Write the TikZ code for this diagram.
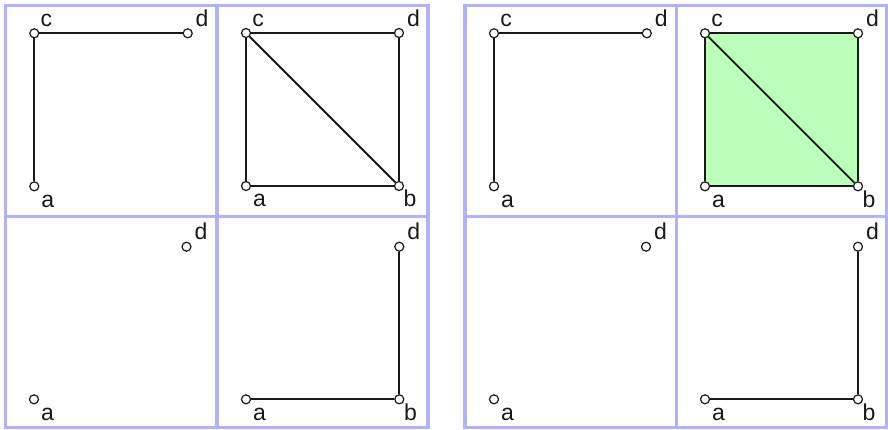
\documentclass[tikz,border=0pt]{standalone}
\usepackage{fontspec}
\setmainfont{Liberation Sans}
\usetikzlibrary{backgrounds}
\definecolor{frame}{RGB}{178,178,252}
\definecolor{fillg}{RGB}{187,255,187}
\definecolor{ink}{RGB}{25,25,25}
\tikzset{
  pt/.style={circle, draw=ink, fill=white, line width=1.2pt, minimum size=9pt, inner sep=0pt},
  lbl/.style={anchor=base west, inner sep=0pt, font=\fontsize{23}{23}\selectfont, text=ink},
  lblc/.style={lbl, xshift=6.2pt, yshift=6.8pt},
  lbld/.style={lbl, xshift=7.8pt, yshift=6.8pt},
  lbla/.style={lbl, xshift=6.8pt, yshift=-20.8pt},
  lblb/.style={lbl, xshift=4.5pt, yshift=-20.8pt},
  thick edge/.style={draw=ink, line width=2pt},
  thin edge/.style={draw=ink, line width=1.8pt},
  frameline/.style={draw=frame, line width=3.5pt},
}
\begin{document}
\begin{tikzpicture}[x=1pt,y=-1pt]
\useasboundingbox (0,0) rectangle (888,429);
% frames
\draw[frameline] (5.5,5.5) rectangle (428,427.5);
\draw[frameline] (216.8,5.5) -- (216.8,427.5);
\draw[frameline] (5.5,216.6) -- (428,216.6);
\draw[frameline] (465,5.5) rectangle (886.5,427.5);
\draw[frameline] (676.6,5.5) -- (676.6,427.5);
\draw[frameline] (465,216.6) -- (886.5,216.6);

% ---------- left group ----------
% panel 1
\node[pt] (A1c) at (34.3,33.3) {};
\node[pt] (A1d) at (187.7,33.3) {};
\node[pt] (A1a) at (34.3,186.3) {};
\node[lblc] at (A1c) {c};
\node[lbld] at (A1d) {d};
\node[lbla] at (A1a) {a};
\draw[thick edge] (A1c) -- (A1d);
\draw[thick edge] (A1c) -- (A1a);
% panel 2
\node[pt] (A2c) at (246,33) {};
\node[pt] (A2d) at (399,33) {};
\node[pt] (A2a) at (246,186) {};
\node[pt] (A2b) at (399,186) {};
\node[lblc] at (A2c) {c};
\node[lbld] at (A2d) {d};
\node[lbla] at (A2a) {a};
\node[lblb] at (A2b) {b};
\draw[thin edge] (A2c) -- (A2d);
\draw[thin edge] (A2c) -- (A2a);
\draw[thin edge] (A2a) -- (A2b);
\draw[thin edge] (A2d) -- (A2b);
\draw[thin edge] (A2c) -- (A2b);
% panel 3
\node[pt] (A3d) at (186.5,246.7) {};
\node[pt] (A3a) at (34,399.3) {};
\node[lbld] at (A3d) {d};
\node[lbla] at (A3a) {a};
% panel 4
\node[pt] (A4d) at (399.3,246.7) {};
\node[pt] (A4a) at (246,399.3) {};
\node[pt] (A4b) at (399.3,399.3) {};
\node[lbld] at (A4d) {d};
\node[lbla] at (A4a) {a};
\node[lblb] at (A4b) {b};
\draw[thick edge] (A4a) -- (A4b);
\draw[thick edge] (A4d) -- (A4b);

% ---------- right group ----------
% panel 1
\node[pt] (B1c) at (494,33.3) {};
\node[pt] (B1d) at (646.8,33.3) {};
\node[pt] (B1a) at (494,186.3) {};
\node[lblc] at (B1c) {c};
\node[lbld] at (B1d) {d};
\node[lbla] at (B1a) {a};
\draw[thick edge] (B1c) -- (B1d);
\draw[thick edge] (B1c) -- (B1a);
% panel 2
\node[pt] (B2c) at (705,33.3) {};
\node[pt] (B2d) at (858,33.3) {};
\node[pt] (B2a) at (705,186.3) {};
\node[pt] (B2b) at (858,186.3) {};
\begin{scope}[on background layer]
  \fill[fillg] (B2a.center) -- (B2b.center) -- (B2d.center) -- (B2c.center) -- cycle;
\end{scope}
\node[lblc] at (B2c) {c};
\node[lbld] at (B2d) {d};
\node[lbla] at (B2a) {a};
\node[lblb] at (B2b) {b};
\draw[thick edge] (B2c) -- (B2d);
\draw[thick edge] (B2c) -- (B2a);
\draw[thick edge] (B2a) -- (B2b);
\draw[thick edge] (B2d) -- (B2b);
\draw[thin edge] (B2c) -- (B2b);
% panel 3
\node[pt] (B3d) at (646,246.7) {};
\node[pt] (B3a) at (494,399.3) {};
\node[lbld] at (B3d) {d};
\node[lbla] at (B3a) {a};
% panel 4
\node[pt] (B4d) at (858,246.7) {};
\node[pt] (B4a) at (705,399.3) {};
\node[pt] (B4b) at (858,399.3) {};
\node[lbld] at (B4d) {d};
\node[lbla] at (B4a) {a};
\node[lblb] at (B4b) {b};
\draw[thick edge] (B4a) -- (B4b);
\draw[thick edge] (B4d) -- (B4b);
\end{tikzpicture}
\end{document}
